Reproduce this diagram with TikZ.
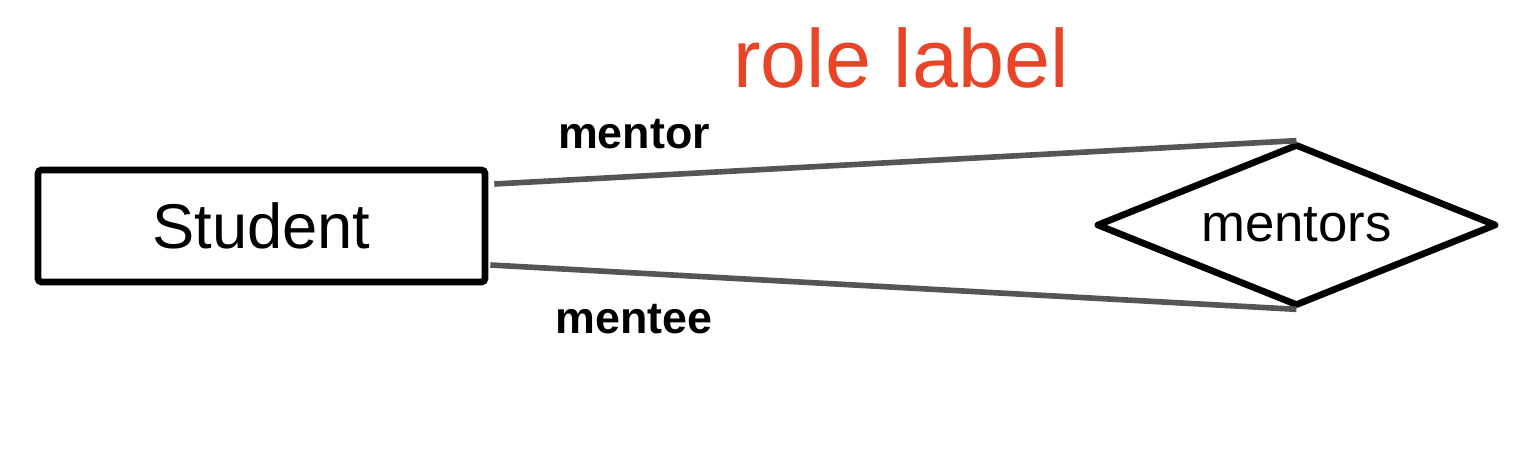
\documentclass[tikz,border=0pt]{standalone}
\usepackage{fontspec}
\setmainfont{Liberation Sans}
\usepackage{xcolor}
\usetikzlibrary{calc,positioning,shapes.geometric}
\definecolor{rolered}{HTML}{E84427}
\definecolor{linkgray}{HTML}{555555}
\tikzset{%
	entity/.style   = {draw, rectangle, rounded corners=1pt, line width=1.9pt, minimum width=4.47cm, minimum height=1.12cm, inner sep=0pt, font=\fontsize{18}{20}\selectfont, text centered},
	relation/.style = {draw, diamond, aspect=2.47, line width=1.9pt, line join=round, minimum width=4cm, minimum height=1.62cm, inner sep=0pt, font=\fontsize{15}{17}\selectfont, text centered},
	role/.style     = {anchor=base, font=\bfseries\fontsize{12.75}{14}\selectfont},
	link/.style     = {line width=1.6pt, linkgray},
}

\begin{document}
\begin{tikzpicture}
	\useasboundingbox (0,0) rectangle (15.4,4.56);
	\node[entity] (student) at (2.615,2.30) {Student};
	\node[relation] (mentors) at (12.965,2.31) {mentors};
	\node[anchor=base, text=rolered, font=\fontsize{23.5}{26}\selectfont] (rolelabel) at (9.01,3.68) {role label};
	\node[role] (mentor) at (6.34,3.07) {mentor};
	\node[role] (mentee) at (6.34,1.22) {mentee};
	\draw[link] ([shift={(0.06,0.42)}]student.east) -- (mentors.north);
	\draw[link] ([shift={(0.02,-0.39)}]student.east) -- (mentors.south);
\end{tikzpicture}
\end{document}
